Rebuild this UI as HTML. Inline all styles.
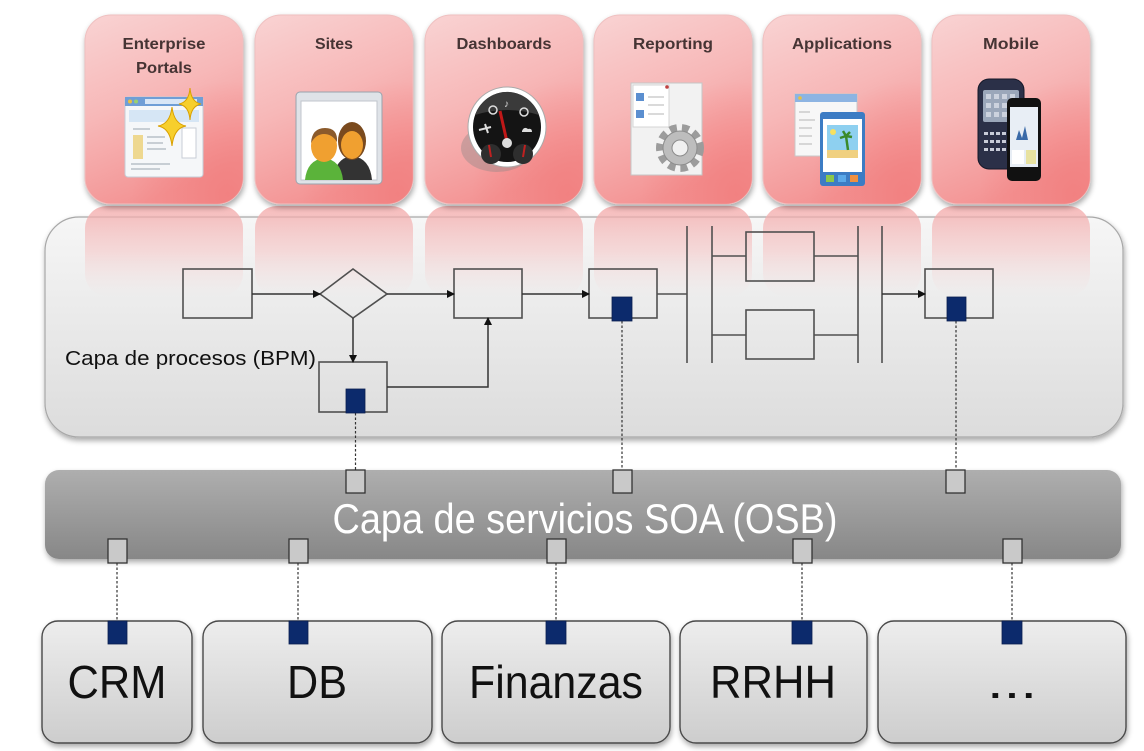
<!DOCTYPE html>
<html>
<head>
<meta charset="utf-8">
<style>
html,body{margin:0;padding:0;background:#fff;}
svg{display:block;}
text{font-family:"Liberation Sans",Arial,sans-serif;}
</style>
</head>
<body>
<svg width="1144" height="751" viewBox="0 0 1144 751" xmlns="http://www.w3.org/2000/svg">
<defs>
  <linearGradient id="tile" x1="0" y1="0" x2="0.35" y2="1">
    <stop offset="0" stop-color="#f9d3d3"/>
    <stop offset="0.5" stop-color="#f7b8b8"/>
    <stop offset="1" stop-color="#f39393"/>
  </linearGradient>
  <radialGradient id="tileHi" cx="0.9" cy="0.95" r="0.6">
    <stop offset="0" stop-color="#f27b7b" stop-opacity="0.75"/>
    <stop offset="1" stop-color="#f27b7b" stop-opacity="0"/>
  </radialGradient>
  <linearGradient id="refl" x1="0" y1="0" x2="0" y2="1">
    <stop offset="0" stop-color="#f3a8a8" stop-opacity="0.8"/>
    <stop offset="0.5" stop-color="#f5bebe" stop-opacity="0.5"/>
    <stop offset="1" stop-color="#f8d8d8" stop-opacity="0"/>
  </linearGradient>
  <linearGradient id="panel" x1="0" y1="0" x2="0" y2="1">
    <stop offset="0" stop-color="#f6f6f6"/>
    <stop offset="1" stop-color="#dcdcdc"/>
  </linearGradient>
  <linearGradient id="soa" x1="0" y1="0" x2="0" y2="1">
    <stop offset="0" stop-color="#aeaeae"/>
    <stop offset="1" stop-color="#878787"/>
  </linearGradient>
  <linearGradient id="box" x1="0" y1="0" x2="0" y2="1">
    <stop offset="0" stop-color="#ededed"/>
    <stop offset="1" stop-color="#cdcdcd"/>
  </linearGradient>
  <filter id="sh" x="-5%" y="-10%" width="110%" height="130%">
    <feGaussianBlur in="SourceAlpha" stdDeviation="3"/>
    <feOffset dx="1" dy="3"/>
    <feComponentTransfer><feFuncA type="linear" slope="0.35"/></feComponentTransfer>
    <feMerge><feMergeNode/><feMergeNode in="SourceGraphic"/></feMerge>
  </filter>
  <marker id="ah" markerWidth="8" markerHeight="8" refX="7" refY="4" orient="auto" markerUnits="userSpaceOnUse">
    <path d="M0,0 L8,4 L0,8 Z" fill="#111"/>
  </marker>
</defs>

<!-- Process panel -->
<rect x="45" y="217" width="1078" height="220" rx="34" fill="url(#panel)" stroke="#a8a8a8" stroke-width="1.2" filter="url(#sh)"/>

<!-- Reflections of tiles -->
<g>
  <rect x="85" y="206" width="158" height="90" rx="22" fill="url(#refl)"/>
  <rect x="255" y="206" width="158" height="90" rx="22" fill="url(#refl)"/>
  <rect x="425" y="206" width="158" height="90" rx="22" fill="url(#refl)"/>
  <rect x="594" y="206" width="158" height="90" rx="22" fill="url(#refl)"/>
  <rect x="763" y="206" width="158" height="90" rx="22" fill="url(#refl)"/>
  <rect x="932" y="206" width="158" height="90" rx="22" fill="url(#refl)"/>
</g>

<!-- Top tiles -->
<g filter="url(#sh)">
  <rect x="85" y="15" width="158" height="189" rx="26" fill="url(#tile)" stroke="#efc0c0"/>
  <rect x="255" y="15" width="158" height="189" rx="26" fill="url(#tile)" stroke="#efc0c0"/>
  <rect x="425" y="15" width="158" height="189" rx="26" fill="url(#tile)" stroke="#efc0c0"/>
  <rect x="594" y="15" width="158" height="189" rx="26" fill="url(#tile)" stroke="#efc0c0"/>
  <rect x="763" y="15" width="158" height="189" rx="26" fill="url(#tile)" stroke="#efc0c0"/>
  <rect x="932" y="15" width="158" height="189" rx="26" fill="url(#tile)" stroke="#efc0c0"/>
</g>
<g>
  <rect x="85" y="15" width="158" height="189" rx="26" fill="url(#tileHi)"/>
  <rect x="255" y="15" width="158" height="189" rx="26" fill="url(#tileHi)"/>
  <rect x="425" y="15" width="158" height="189" rx="26" fill="url(#tileHi)"/>
  <rect x="594" y="15" width="158" height="189" rx="26" fill="url(#tileHi)"/>
  <rect x="763" y="15" width="158" height="189" rx="26" fill="url(#tileHi)"/>
  <rect x="932" y="15" width="158" height="189" rx="26" fill="url(#tileHi)"/>
</g>

<!-- Tile titles -->
<g font-weight="bold" font-size="16" fill="#463434" text-anchor="middle">
  <text x="164" y="49" textLength="83" lengthAdjust="spacingAndGlyphs">Enterprise</text>
  <text x="164" y="73" textLength="56" lengthAdjust="spacingAndGlyphs">Portals</text>
  <text x="334" y="49" textLength="38" lengthAdjust="spacingAndGlyphs">Sites</text>
  <text x="504" y="49" textLength="95" lengthAdjust="spacingAndGlyphs">Dashboards</text>
  <text x="673" y="49" textLength="80" lengthAdjust="spacingAndGlyphs">Reporting</text>
  <text x="842" y="49" textLength="100" lengthAdjust="spacingAndGlyphs">Applications</text>
  <text x="1011" y="49" textLength="56" lengthAdjust="spacingAndGlyphs">Mobile</text>
</g>

<!-- Icon: Enterprise Portals -->
<g>
  <rect x="125" y="97" width="78" height="80" rx="3" fill="#f5f7f9" stroke="#c5cdd6"/>
  <rect x="125" y="97" width="78" height="9" fill="#6f9ed6"/>
  <circle cx="130" cy="101.5" r="2" fill="#e8c040"/>
  <circle cx="136" cy="101.5" r="2" fill="#9ad070"/>
  <rect x="145" y="99" width="52" height="5" fill="#d8e6f6"/>
  <rect x="129" y="110" width="70" height="12" fill="#d6e6f5"/>
  <rect x="133" y="135" width="10" height="24" fill="#eed890"/>
  <g stroke="#b8c0c8" stroke-width="1.5">
    <line x1="147" y1="137" x2="165" y2="137"/>
    <line x1="147" y1="143" x2="163" y2="143"/>
    <line x1="147" y1="149" x2="166" y2="149"/>
    <line x1="131" y1="164" x2="170" y2="164"/>
    <line x1="131" y1="169" x2="160" y2="169"/>
    <line x1="133" y1="129" x2="150" y2="129"/>
  </g>
  <rect x="182" y="128" width="14" height="30" fill="#fff" stroke="#c8ced6"/>
  <path d="M172,107 Q174,124 186,126 Q174,128 172,146 Q170,128 158,126 Q170,124 172,107 Z" fill="#f7cf2c" stroke="#d9a000" stroke-width="1"/>
  <path d="M190,88 Q191,102 201,104 Q191,106 190,120 Q189,106 179,104 Q189,102 190,88 Z" fill="#f7cf2c" stroke="#d9a000" stroke-width="1"/>
</g>

<!-- Icon: Sites -->
<g>
  <rect x="296" y="92" width="86" height="92" rx="4" fill="#dfe3e8" stroke="#9aa3ad"/>
  <rect x="301" y="101" width="76" height="79" fill="#ffffff" stroke="#c0c6cc"/>
  <path d="M333,180 Q335,158 352,156 Q370,158 372,180 Z" fill="#333"/>
  <ellipse cx="352" cy="141" rx="14" ry="19" fill="#7a4a1e"/>
  <ellipse cx="352" cy="145" rx="11" ry="14" fill="#f0a030"/>
  <path d="M305,180 Q307,160 324,158 Q341,160 343,180 Z" fill="#5bb33a"/>
  <ellipse cx="324" cy="146" rx="13" ry="16" fill="#f0a030"/>
  <path d="M311,143 Q312,128 325,128 Q338,128 337,142 Q332,134 324,134 Q316,134 311,143 Z" fill="#8b5a2b"/>
</g>

<!-- Icon: Dashboards -->
<g>
  <ellipse cx="497" cy="148" rx="36" ry="24" fill="#9a8a8a" opacity="0.45"/>
  <ellipse cx="507" cy="127" rx="39" ry="40" fill="#ffffff" stroke="#aaa"/>
  <ellipse cx="507" cy="127" rx="34" ry="35" fill="#141414"/>
  <path d="M475,115 A34,35 0 0,1 539,115 Q507,105 475,115 Z" fill="#3a3a3a"/>
  <circle cx="491" cy="154" r="10" fill="#2e2e2e"/>
  <circle cx="523" cy="154" r="10" fill="#2e2e2e"/>
  <line x1="491" y1="157" x2="489" y2="145" stroke="#c02020" stroke-width="2"/>
  <line x1="523" y1="157" x2="525" y2="145" stroke="#c02020" stroke-width="2"/>
  <line x1="507" y1="142" x2="500" y2="111" stroke="#c01818" stroke-width="3"/>
  <circle cx="507" cy="143" r="5" fill="#ddd"/>
  <circle cx="493" cy="110" r="4" fill="none" stroke="#ddd" stroke-width="1.5"/>
  <text x="504" y="107" font-size="10" fill="#ddd">♪</text>
  <circle cx="524" cy="112" r="4" fill="none" stroke="#ddd" stroke-width="1.5"/>
  <path d="M479,130 L491,127 M485,124 L488,133" stroke="#ddd" stroke-width="2"/>
  <path d="M522,131 q2,-5 6,-2 q4,-1 4,3 h-10 z" fill="#ddd"/>
</g>

<!-- Icon: Reporting -->
<g>
  <rect x="631" y="83" width="71" height="92" fill="#f2f2f2" stroke="#c6c6c6"/>
  <rect x="633" y="85" width="36" height="42" fill="#fff" stroke="#d4d4d4"/>
  <circle cx="667" cy="87" r="1.8" fill="#c04040"/>
  <rect x="636" y="93" width="8" height="8" fill="#5b8fd0"/>
  <rect x="636" y="110" width="8" height="8" fill="#5b8fd0"/>
  <g stroke="#c0c0c0" stroke-width="1.2">
    <line x1="648" y1="97" x2="664" y2="97"/>
    <line x1="648" y1="105" x2="664" y2="105"/>
    <line x1="648" y1="114" x2="664" y2="114"/>
  </g>
  <circle cx="680" cy="148" r="20" fill="none" stroke="#9c9c9c" stroke-width="8" stroke-dasharray="7 5"/>
  <circle cx="680" cy="148" r="17" fill="#bdbdbd" stroke="#8c8c8c"/>
  <circle cx="680" cy="148" r="8" fill="#f0f0f0" stroke="#8c8c8c"/>
</g>

<!-- Icon: Applications -->
<g>
  <rect x="795" y="94" width="62" height="62" fill="#f7f7f7" stroke="#c8c8c8"/>
  <rect x="795" y="94" width="62" height="8" fill="#8db4e2"/>
  <circle cx="800" cy="98" r="1.8" fill="#e8c040"/>
  <g stroke="#c0c0c0" stroke-width="1.2">
    <line x1="799" y1="112" x2="810" y2="112"/>
    <line x1="799" y1="120" x2="815" y2="120"/>
    <line x1="799" y1="128" x2="812" y2="128"/>
    <line x1="799" y1="136" x2="812" y2="136"/>
    <line x1="799" y1="144" x2="812" y2="144"/>
  </g>
  <rect x="820" y="112" width="45" height="74" rx="3" fill="#3c7cc4"/>
  <rect x="823" y="119" width="39" height="53" fill="#ffffff"/>
  <rect x="827" y="125" width="31" height="33" fill="#8ed0f0"/>
  <rect x="827" y="150" width="31" height="8" fill="#f0d080"/>
  <circle cx="833" cy="132" r="3" fill="#f7e060"/>
  <path d="M848,150 L846,136 M846,136 l-6,2 M846,136 l6,1 M846,136 l-3,-5 M846,136 l4,-4" stroke="#3a8a2a" stroke-width="2.5"/>
  <rect x="826" y="175" width="8" height="7" fill="#8cc84a"/>
  <rect x="838" y="175" width="8" height="7" fill="#5aa8e8"/>
  <rect x="850" y="175" width="8" height="7" fill="#f09040"/>
</g>

<!-- Icon: Mobile -->
<g>
  <rect x="978" y="79" width="46" height="90" rx="11" fill="#2b3048" stroke="#151828"/>
  <rect x="983" y="90" width="36" height="32" rx="2" fill="#9ba7ba"/>
  <g fill="#ccd2de">
    <rect x="986" y="94" width="5" height="5"/><rect x="994" y="94" width="5" height="5"/><rect x="1002" y="94" width="5" height="5"/><rect x="1010" y="94" width="5" height="5"/>
    <rect x="986" y="103" width="5" height="5"/><rect x="994" y="103" width="5" height="5"/><rect x="1002" y="103" width="5" height="5"/><rect x="1010" y="103" width="5" height="5"/>
    <rect x="986" y="112" width="5" height="5"/><rect x="994" y="112" width="5" height="5"/><rect x="1002" y="112" width="5" height="5"/>
  </g>
  <g fill="#c8ccd8">
    <rect x="984" y="132" width="4" height="3"/><rect x="990" y="132" width="4" height="3"/><rect x="996" y="132" width="4" height="3"/><rect x="1002" y="132" width="4" height="3"/>
    <rect x="984" y="140" width="4" height="3"/><rect x="990" y="140" width="4" height="3"/><rect x="996" y="140" width="4" height="3"/><rect x="1002" y="140" width="4" height="3"/>
    <rect x="984" y="148" width="4" height="3"/><rect x="990" y="148" width="4" height="3"/><rect x="996" y="148" width="4" height="3"/><rect x="1002" y="148" width="4" height="3"/>
  </g>
  <rect x="1007" y="98" width="34" height="83" rx="5" fill="#111"/>
  <rect x="1010" y="107" width="28" height="60" fill="#e8eef5"/>
  <path d="M1016,140 l3,-10 l3,8 l3,-12 l3,14 z" fill="#3a6aa8"/>
  <rect x="1012" y="150" width="12" height="14" fill="#fff"/>
  <rect x="1026" y="150" width="10" height="14" fill="#e8e2a0"/>
</g>

<!-- Process flow -->
<g stroke="#505050" stroke-width="1.6" fill="none">
  <rect x="183" y="269" width="69" height="49"/>
  <polygon points="320,294 353,269 387,294 353,318"/>
  <rect x="454" y="269" width="68" height="49"/>
  <rect x="589" y="269" width="68" height="49"/>
  <rect x="746" y="232" width="68" height="49"/>
  <rect x="746" y="310" width="68" height="49"/>
  <rect x="925" y="269" width="68" height="49"/>
  <rect x="319" y="362" width="68" height="50"/>
  <line x1="657" y1="294" x2="687" y2="294"/>
  <line x1="687" y1="226" x2="687" y2="363"/>
  <line x1="712" y1="226" x2="712" y2="363"/>
  <line x1="712" y1="256" x2="746" y2="256"/>
  <line x1="814" y1="256" x2="858" y2="256"/>
  <line x1="712" y1="335" x2="746" y2="335"/>
  <line x1="814" y1="335" x2="858" y2="335"/>
  <line x1="858" y1="226" x2="858" y2="363"/>
  <line x1="882" y1="226" x2="882" y2="363"/>
</g>
<g stroke="#333" stroke-width="1.5" fill="none" marker-end="url(#ah)">
  <line x1="252" y1="294" x2="320" y2="294"/>
  <line x1="387" y1="294" x2="454" y2="294"/>
  <line x1="522" y1="294" x2="589" y2="294"/>
  <line x1="882" y1="294" x2="925" y2="294"/>
  <line x1="353" y1="318" x2="353" y2="362"/>
  <polyline points="387,387 488,387 488,318"/>
</g>

<text x="65" y="365" font-size="20" fill="#111" textLength="251" lengthAdjust="spacingAndGlyphs">Capa de procesos (BPM)</text>

<!-- SOA bar -->
<rect x="45" y="470" width="1076" height="89" rx="14" fill="url(#soa)" filter="url(#sh)"/>
<text x="585" y="533" font-size="42" fill="#ffffff" text-anchor="middle" textLength="505" lengthAdjust="spacingAndGlyphs">Capa de servicios SOA (OSB)</text>

<!-- Bottom boxes -->
<g stroke="#4a4a4a" stroke-width="1.4" fill="url(#box)" filter="url(#sh)">
  <rect x="42" y="621" width="150" height="122" rx="16"/>
  <rect x="203" y="621" width="229" height="122" rx="16"/>
  <rect x="442" y="621" width="228" height="122" rx="16"/>
  <rect x="680" y="621" width="187" height="122" rx="16"/>
  <rect x="878" y="621" width="248" height="122" rx="16"/>
</g>
<g font-size="46" fill="#111" text-anchor="middle">
  <text x="117" y="698" textLength="99" lengthAdjust="spacingAndGlyphs">CRM</text>
  <text x="317" y="698" textLength="60" lengthAdjust="spacingAndGlyphs">DB</text>
  <text x="556" y="698" textLength="174" lengthAdjust="spacingAndGlyphs">Finanzas</text>
  <text x="773" y="698" textLength="126" lengthAdjust="spacingAndGlyphs">RRHH</text>
  <text x="1012" y="698" textLength="50" lengthAdjust="spacingAndGlyphs">...</text>
</g>

<!-- Dotted connectors -->
<g stroke="#333" stroke-width="1.2" stroke-dasharray="2.5 2">
  <line x1="355.5" y1="413" x2="355.5" y2="470"/>
  <line x1="622" y1="321" x2="622" y2="470"/>
  <line x1="956" y1="321" x2="956" y2="470"/>
  <line x1="117" y1="563" x2="117" y2="621"/>
  <line x1="298" y1="563" x2="298" y2="621"/>
  <line x1="556" y1="563" x2="556" y2="621"/>
  <line x1="802" y1="563" x2="802" y2="621"/>
  <line x1="1012" y1="563" x2="1012" y2="621"/>
</g>

<!-- Grey port squares -->
<g fill="#c9c9c9" stroke="#333" stroke-width="1.3">
  <rect x="346" y="470" width="19" height="23"/>
  <rect x="613" y="470" width="19" height="23"/>
  <rect x="946" y="470" width="19" height="23"/>
  <rect x="108" y="539" width="19" height="24"/>
  <rect x="289" y="539" width="19" height="24"/>
  <rect x="547" y="539" width="19" height="24"/>
  <rect x="793" y="539" width="19" height="24"/>
  <rect x="1003" y="539" width="19" height="24"/>
</g>

<!-- Navy squares -->
<g fill="#0c2a6c" stroke="#0a1f4f" stroke-width="0.8">
  <rect x="346" y="389" width="19" height="24"/>
  <rect x="612" y="297" width="20" height="24"/>
  <rect x="947" y="297" width="19" height="24"/>
  <rect x="108" y="621" width="19" height="23"/>
  <rect x="289" y="621" width="19" height="23"/>
  <rect x="546" y="621" width="20" height="23"/>
  <rect x="792" y="621" width="20" height="23"/>
  <rect x="1002" y="621" width="20" height="23"/>
</g>
</svg>
</body>
</html>
